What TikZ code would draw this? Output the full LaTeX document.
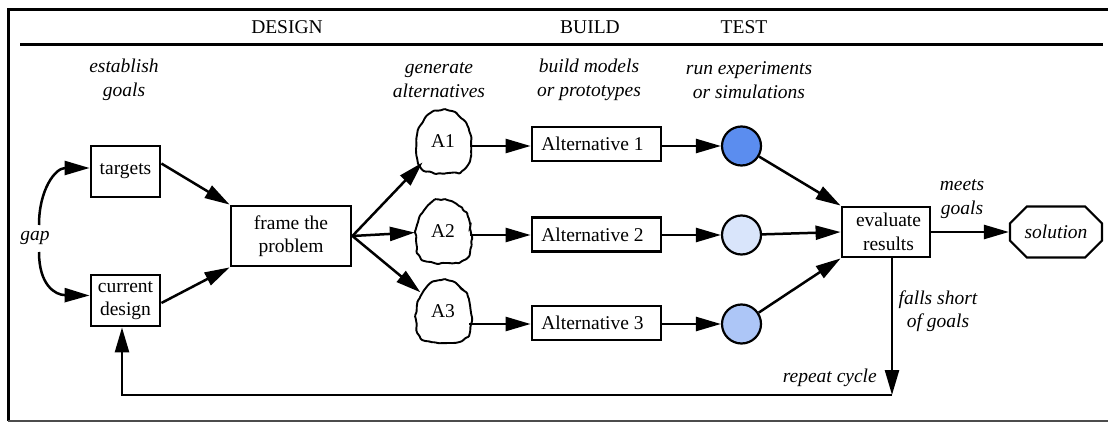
\documentclass[tikz,border=0pt]{standalone}
\usepackage{fontspec}
\setmainfont{Liberation Serif}
\usetikzlibrary{arrows.meta,shapes.geometric,shapes.misc,decorations.pathmorphing,calc}

\definecolor{testA}{HTML}{5B8DEF}
\definecolor{testB}{HTML}{D9E5FB}
\definecolor{testC}{HTML}{ADC6F7}

% outline of an idea bubble, relative to its centre (y grows downwards)
\def\bubblepts{(0,-31) (-11,-29) (-20,-19) (-26,-6) (-27,9) (-24,24) (-12,31) (5,32) (19,30) (27,19) (28,2) (25,-14) (16,-25) (7,-30)}

\begin{document}
\begin{tikzpicture}[x=1pt,y=-1pt,
  every node/.style={font=\fontsize{19.5}{23.5}\selectfont},
  box/.style={draw, line width=2.8pt, align=center, inner sep=0pt},
  note/.style={font=\fontsize{19.5}{23.5}\selectfont\itshape, align=center, inner sep=0pt},
  arr/.style={line width=2.5pt, -{Triangle[length=25pt,width=14pt]}},
  bubble/.style={ellipse, minimum width=56pt, minimum height=62pt, inner sep=0pt},
  bubbleline/.style={line width=1.9pt, decorate,
    decoration={random steps, segment length=3.5pt, amplitude=1.1pt}, rounded corners=1pt},
  trial/.style={draw, circle, line width=2.2pt, minimum size=39pt, inner sep=0pt},
  framebar/.style={line width=3pt},
]
\pgfmathsetseed{11}
\useasboundingbox (0,0) rectangle (1108,422);

% outer frame and header rules
\draw[framebar] (8.5,421) -- (8.5,10) -- (1108,10);
\draw[framebar] (20,45) -- (1103,45);
\draw[line width=1.5pt, black!70] (8,421) -- (1108,421);

% phase headings
\node (design) at (287,27) {DESIGN};
\node (build)  at (590,27) {BUILD};
\node (test)   at (744,27) {TEST};

% activity captions
\node[note] (estab) at (124,80) {establish\\goals};
\node[note] (gen)   at (439,80) {generate\\alternatives};
\node[note] (bm)    at (589,80) {build models\\or prototypes};
\node[note] (re)    at (749,80) {run experiments\\or simulations};

% goal setting
\node[box, minimum width=69pt, minimum height=51pt] (targets) at (125.5,171.5) {targets};
\node[box, minimum width=69pt, minimum height=51pt] (cur) at (125.5,300.5) {current\\design};
\node[note] (gap) at (35,238) {gap};
\node[box, minimum width=120pt, minimum height=60pt] (frame) at (291,236) {frame the\\problem};

% alternatives: hand-drawn bubbles
\foreach \n/\y in {1/141, 2/231, 3/311}{
  \node[bubble] (A\n) at (443,\y) {A\n};
  \draw[bubbleline, shift={(443,\y)}] plot[smooth cycle, tension=0.75] coordinates {\bubblepts};
}

\node[box, minimum width=129pt, minimum height=34pt] (alt1) at (596.5,144) {Alternative 1\hspace*{8pt}};
\node[box, minimum width=129pt, minimum height=34pt] (alt2) at (596.5,234.5) {Alternative 2\hspace*{8pt}};
\node[box, minimum width=129pt, minimum height=34pt] (alt3) at (596.5,323) {Alternative 3\hspace*{8pt}};

\node[trial, fill=testA] (C1) at (741.5,146) {};
\node[trial, fill=testB] (C2) at (741.5,235) {};
\node[trial, fill=testC] (C3) at (741.5,324) {};

% evaluation and outcome
\node[box, minimum width=88pt, minimum height=50pt] (eval) at (886,232) {\hspace*{5pt}evaluate\\\hspace*{5pt}results};
\node[draw, line width=2.2pt, chamfered rectangle, chamfered rectangle sep=10pt,
      minimum width=92pt, minimum height=51pt, inner sep=0pt, font=\fontsize{19.5}{23.5}\selectfont\itshape]
      (sol) at (1056,232) {solution};

\node[note] (meets) at (962,199) {meets\\goals};
\node[note] (falls) at (938,311) {falls short\\of goals};
\node[note, anchor=east] (rep) at (877,378) {repeat cycle};

% connectors
\coordinate (g1) at (39,225);
\coordinate (g2) at (39,252);
\draw[arr] (g1) .. controls (39,190) and (55,168) .. ([yshift=3.5pt]targets.west);
\draw[arr] (g2) .. controls (39,285) and (55,295) .. ([yshift=5pt]cur.west);

\draw[arr] ([yshift=8pt]targets.east) -- (frame.north west);
\draw[arr] ([yshift=-2.5pt]cur.east) -- (frame.south west);

\draw[arr] (frame.east) -- (A1);
\draw[arr] (frame.east) -- (A2);
\draw[arr] (frame.east) -- (A3);

\draw[arr] ([xshift=-1pt]A1.east |- C1) -- (alt1.west |- C1);
\draw[arr] ([xshift=-1pt]A2.east |- C2) -- (alt2.west |- C2);
\draw[arr] ([xshift=-2pt]A3.east |- C3) -- (alt3.west |- C3);

\draw[arr] (alt1.east |- C1) -- (C1);
\draw[arr] (alt2.east |- C2) -- (C2);
\draw[arr] (alt3.east |- C3) -- (C3);

\draw[arr] (C1) -- (eval.north west);
\draw[arr] (C2) -- (eval.west);
\draw[arr] (C3) -- (eval.south west);

\draw[arr] (eval.east) -- (sol.west);

\coordinate (rc) at (892,395);
\coordinate (fb) at (122,395);
\draw[arr] (eval.south -| rc) -- (rc);
\draw[arr] (rc) -- (fb) -- (fb |- cur.south);
\end{tikzpicture}
\end{document}
